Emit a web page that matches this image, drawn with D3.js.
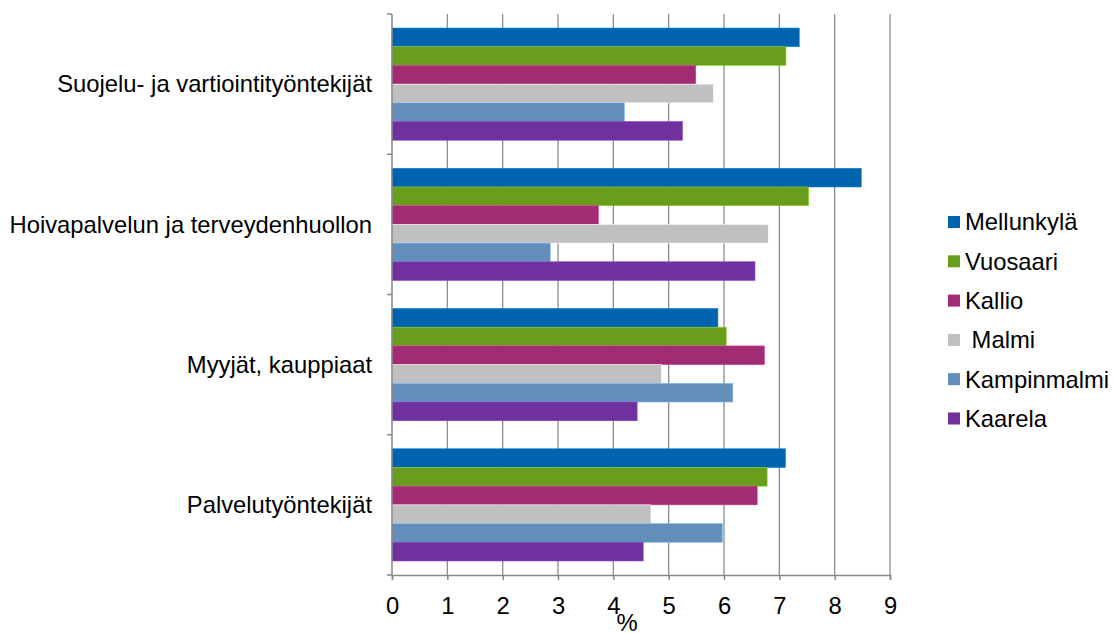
<!DOCTYPE html>
<html>
<head>
<meta charset="utf-8">
<script src="https://cdn.jsdelivr.net/npm/d3@7"></script>
<style>
  body { margin: 0; background: #fff; }
  text { font-family: "Liberation Sans", Arial, sans-serif; fill: #000; }
</style>
</head>
<body>
<script>
// categories (top to bottom)
var categories = ["Suojelu- ja vartiointityöntekijät", "Hoivapalvelun ja terveydenhuollon",
                  "Myyjät, kauppiaat", "Palvelutyöntekijät"];
var seriesNames = ["Mellunkylä", "Vuosaari", "Kallio", " Malmi", "Kampinmalmi", "Kaarela"];
var seriesColors = ["#0063ae", "#689e1c", "#a22c74", "#c0c0c0", "#628eba", "#6f319d"];

// values per series, in category order
var mellunkyla  = [7.36, 8.48, 5.89, 7.11];
var vuosaari    = [7.12, 7.53, 6.04, 6.78];
var kallio      = [5.49, 3.73, 6.73, 6.60];
var malmi       = [5.81, 6.80, 4.87, 4.68];
var kampinmalmi = [4.20, 2.86, 6.16, 5.97];
var kaarela     = [5.25, 6.56, 4.43, 4.54];
var xTicks = [0, 1, 2, 3, 4, 5, 6, 7, 8, 9];

var values = [mellunkyla, vuosaari, kallio, malmi, kampinmalmi, kaarela];

var width = 1114, height = 633;
var margin = {top: 14, left: 392, right: 224, bottom: 58};
var fontSize = "23.8px";

var svg = d3.select("body").append("svg")
    .attr("width", width)
    .attr("height", height);

var x = d3.scaleLinear().domain([0, 9]).range([margin.left, width - margin.right]);
var y0 = d3.scaleBand().domain(categories).range([margin.top, height - margin.bottom]);
var y1 = d3.scaleBand().domain(d3.range(seriesNames.length))
    .range([0, y0.bandwidth()]).paddingInner(0).paddingOuter(0.75);

// gridlines
svg.append("g")
    .selectAll("line")
    .data(xTicks.slice(1))
    .enter().append("line")
    .attr("x1", function(d) { return x(d); })
    .attr("x2", function(d) { return x(d); })
    .attr("y1", margin.top)
    .attr("y2", height - margin.bottom)
    .attr("stroke", "#8c8c8c")
    .attr("stroke-width", 1.3);

// bars
var groups = svg.append("g")
    .selectAll("g")
    .data(categories)
    .enter().append("g")
    .attr("transform", function(d) { return "translate(0," + y0(d) + ")"; });

groups.selectAll("rect")
    .data(function(d, ci) {
        return values.map(function(s, si) { return {si: si, v: s[ci]}; });
    })
    .enter().append("rect")
    .attr("x", x(0))
    .attr("y", function(d) { return y1(d.si); })
    .attr("width", function(d) { return x(d.v) - x(0); })
    .attr("height", y1.bandwidth())
    .attr("fill", function(d) { return seriesColors[d.si]; })
    .attr("stroke", function(d) { return d3.color(seriesColors[d.si]).brighter(0.8); })
    .attr("stroke-width", 0.6);

// y axis
var yAxis = svg.append("g").attr("transform", "translate(" + x(0) + ",0)");
yAxis.append("line")
    .attr("y1", margin.top).attr("y2", height - margin.bottom)
    .attr("stroke", "#868686").attr("stroke-width", 1.5);
yAxis.selectAll("line.tick")
    .data(categories.map(function(c) { return y0(c); }).concat([height - margin.bottom]))
    .enter().append("line")
    .attr("class", "tick")
    .attr("x1", -5).attr("x2", 0)
    .attr("y1", function(d) { return d; }).attr("y2", function(d) { return d; })
    .attr("stroke", "#868686").attr("stroke-width", 1.5);
yAxis.selectAll("text")
    .data(categories)
    .enter().append("text")
    .attr("x", -20)
    .attr("y", function(d) { return y0(d) + y0.bandwidth() / 2; })
    .attr("dy", "0.35em")
    .attr("text-anchor", "end")
    .style("font-size", fontSize)
    .text(function(d) { return d; });

// x axis
var xAxis = svg.append("g")
    .attr("transform", "translate(0," + (height - margin.bottom) + ")")
    .call(d3.axisBottom(x).tickValues(xTicks).tickSize(5).tickPadding(17).tickFormat(d3.format("d")));
xAxis.select(".domain").attr("stroke", "#868686").attr("stroke-width", 1.5);
xAxis.selectAll(".tick line").attr("stroke", "#868686").attr("stroke-width", 1.5);
xAxis.selectAll(".tick text")
    .style("font-size", fontSize)
    .style("font-family", "'Liberation Sans', Arial, sans-serif")
    .attr("fill", "#000");

svg.append("text")
    .attr("x", (x(0) + x(9)) / 2 - 14)
    .attr("y", 631)
    .attr("text-anchor", "middle")
    .style("font-size", fontSize)
    .text("%");

// legend
var legend = svg.append("g").attr("transform", "translate(948,222)");
var item = legend.selectAll("g")
    .data(seriesNames)
    .enter().append("g")
    .attr("transform", function(d, i) { return "translate(0," + (i * 39.3) + ")"; });
item.append("rect")
    .attr("x", 0).attr("y", -6)
    .attr("width", 12).attr("height", 12)
    .attr("fill", function(d, i) { return seriesColors[i]; });
item.append("text")
    .attr("x", 17)
    .attr("dy", "0.35em")
    .style("font-size", fontSize)
    .style("white-space", "pre")
    .attr("xml:space", "preserve")
    .text(function(d) { return d; });
</script>
</body>
</html>
